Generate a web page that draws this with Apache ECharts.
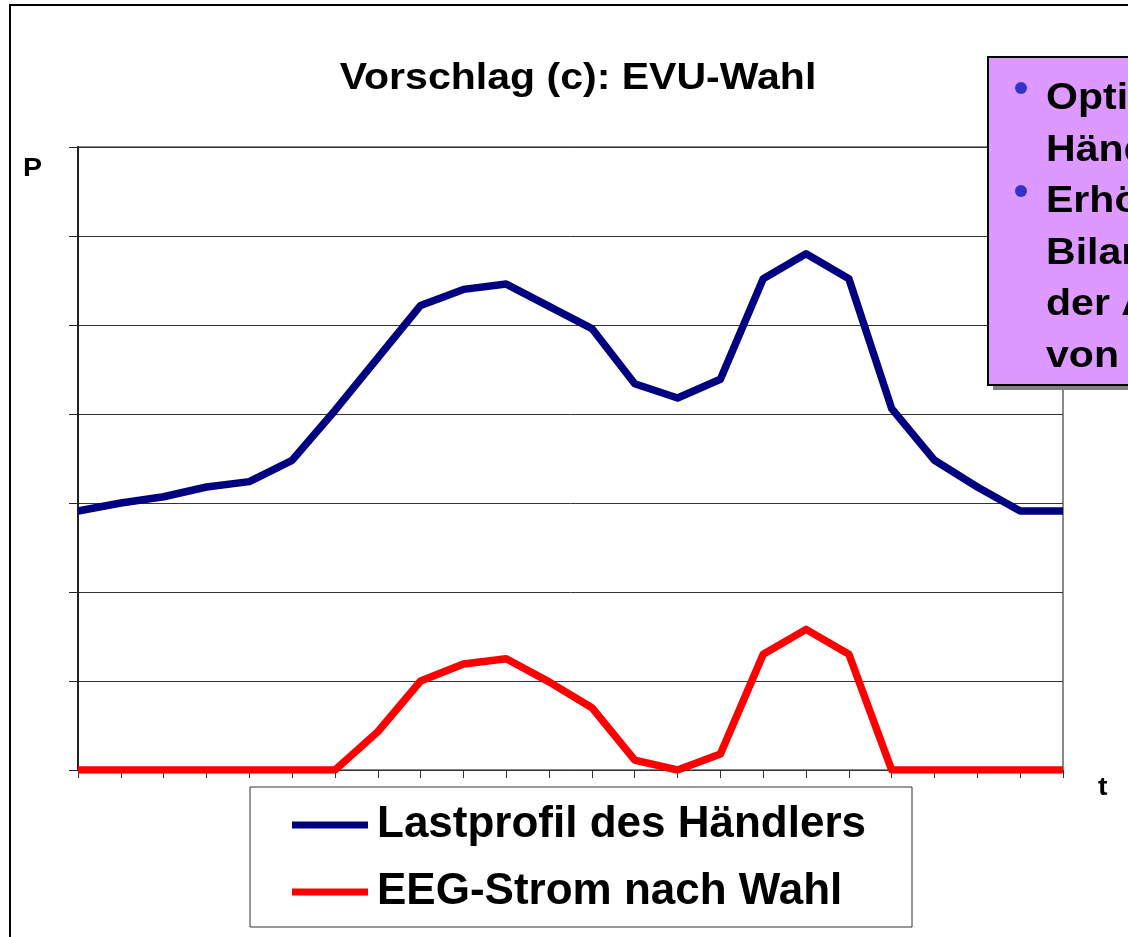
<!DOCTYPE html>
<html>
<head>
<meta charset="utf-8">
<script src="https://cdn.jsdelivr.net/npm/echarts@6/dist/echarts.min.js"></script>
<style>
html,body{margin:0;padding:0;background:#fff;}
#main{width:1128px;height:937px;}
</style>
</head>
<body>
<div id="main"></div>
<script>
// Zeitpunkte (ohne Beschriftung)
var zeiten = ['1','2','3','4','5','6','7','8','9','10','11','12','13','14','15','16','17','18','19','20','21','22','23','24'];
// Lastprofil des Händlers
var lastprofil = [2.91,3.0,3.07,3.18,3.24,3.48,4.04,4.63,5.22,5.40,5.46,5.21,4.96,4.34,4.18,4.39,5.52,5.80,5.52,4.06,3.48,3.18,2.91,2.91];
// EEG-Strom nach Wahl
var eegStrom = [0,0,0,0,0,0,0,0.43,1.0,1.19,1.25,0.99,0.70,0.11,0,0.18,1.30,1.58,1.30,0,0,0,0,0];
var serienNamen = ['Lastprofil des Händlers','EEG-Strom nach Wahl'];
var boxZeilen = ['Optimierung des','Händlerprofils','Erhöhung der','Bilanzkreis-','der Abnahme','von EEG-Strom'];

var font = 'Liberation Sans, Arial, sans-serif';
var breit = 1.14; // Schrift im Original etwas breiter
var myChart = echarts.init(document.getElementById('main'));

function txt(s,x,y,size,align){
	return {type:'text',x:x,y:y,scaleX:breit,z:102,
		style:{text:s,fill:'#000',font:'bold '+size+'px '+font,textAlign:align||'left',textVerticalAlign:'middle'}};
}

// Textbox oben rechts (wird am Rand abgeschnitten)
var boxElemente = [
	{type:'rect',shape:{x:993,y:62,width:200,height:328},style:{fill:'#808080'},z:100},
	{type:'rect',shape:{x:988,y:57,width:200,height:328},style:{fill:'#DD99FF',stroke:'#000',lineWidth:2},z:101},
	{type:'circle',shape:{cx:1021,cy:88,r:6},style:{fill:'#3333CC'},z:102},
	{type:'circle',shape:{cx:1021,cy:191,r:6},style:{fill:'#3333CC'},z:102}
];
for(var i=0;i<boxZeilen.length;i++){
	boxElemente.push(txt(boxZeilen[i],1046,99+i*51.6,36));
}

var option = {
	animation:false,
	backgroundColor:'#fff',
	legend:{
		orient:'vertical',
		left:250, top:787,
		padding:[14,46,11,42],
		itemGap:19,
		itemWidth:76, itemHeight:7,
		icon:'rect',
		borderColor:'#333', borderWidth:1,
		textStyle:{fontFamily:font,fontSize:44,fontWeight:'bold',color:'#000',lineHeight:48,padding:[0,0,0,4]},
		data:serienNamen
	},
	grid:{
		left:78, right:65, top:147, bottom:167,
		show:true, borderColor:'#888', borderWidth:2
	},
	xAxis:{
		type:'category',
		boundaryGap:false,
		data:zeiten,
		axisLine:{lineStyle:{color:'#333',width:1}},
		axisTick:{show:true,length:8,lineStyle:{color:'#333'}},
		axisLabel:{show:false},
		splitLine:{show:false}
	},
	yAxis:{
		type:'value',
		min:0, max:7, interval:1,
		axisLine:{show:true,lineStyle:{color:'#222',width:2}},
		axisTick:{show:true,length:9,lineStyle:{color:'#222'}},
		axisLabel:{show:false},
		splitLine:{lineStyle:{color:'#333',width:1}}
	},
	series:[
		{
			name:serienNamen[0],
			type:'line',
			data:lastprofil,
			showSymbol:false,
			itemStyle:{color:'#000080'},
			lineStyle:{color:'#000080',width:7.5,join:'round'},
			z:3
		},
		{
			name:serienNamen[1],
			type:'line',
			data:eegStrom,
			showSymbol:false,
			itemStyle:{color:'#FF0000'},
			lineStyle:{color:'#FF0000',width:7.5,join:'round'},
			z:4
		}
	],
	graphic:[
		// äußerer Rahmen
		{type:'rect',shape:{x:10,y:5,width:1130,height:940},style:{fill:null,stroke:'#000',lineWidth:2},z:0,silent:true},
		txt('Vorschlag (c): EVU-Wahl',578,79,36,'center'),
		txt('P',23,169,25),
		txt('t',1098,788,25)
	].concat(boxElemente)
};

myChart.setOption(option);
</script>
</body>
</html>
